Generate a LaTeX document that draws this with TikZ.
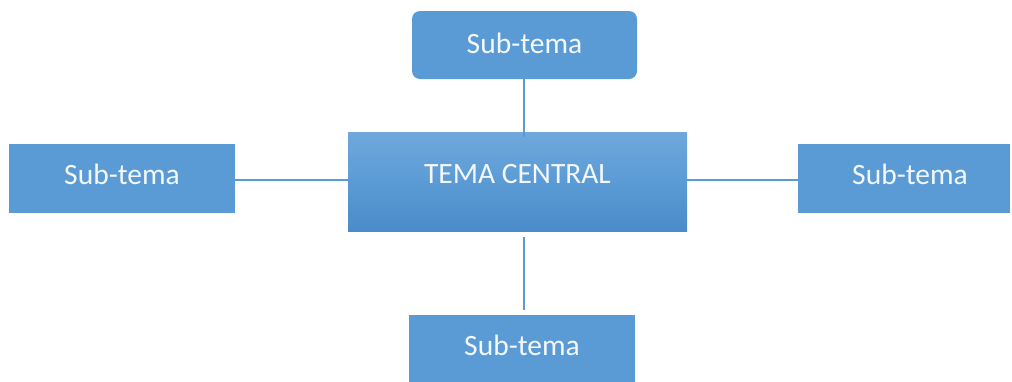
\documentclass[tikz,border=0pt]{standalone}
\usepackage{fontspec}
\setmainfont{Carlito}
\definecolor{officeblue}{HTML}{5B9BD5}
\definecolor{gradtop}{HTML}{70A8DC}
\definecolor{gradbot}{HTML}{4A8BC9}
\definecolor{txtwhite}{HTML}{F4F8FC}
\tikzset{
  subbox/.style={fill=officeblue, draw=none, inner sep=0pt, text=txtwhite,
    font=\fontsize{29.5}{31}\selectfont},
  mainbox/.style={top color=gradtop, bottom color=gradbot, middle color=officeblue, draw=none, inner sep=0pt,
    text=txtwhite, font=\fontsize{29.5}{31}\selectfont},
  conn/.style={draw=officeblue, line width=1.3pt}
}
\begin{document}
\begin{tikzpicture}[x=1pt,y=-1pt]
\useasboundingbox (0,0) rectangle (1012,381);
\fill[white] (0,0) rectangle (1012,381);
\node[mainbox, minimum width=339pt, minimum height=99pt] (central) at (517.5,181.5) {\raisebox{16pt}{TEMA CENTRAL}};
\node[subbox, rounded corners=8pt, minimum width=225pt, minimum height=68pt] (top) at (524.5,45) {\raisebox{3pt}{Sub-tema}};
\node[subbox, minimum width=226pt, minimum height=69pt] (left) at (122,178.5) {\raisebox{8.5pt}{Sub-tema}};
\node[subbox, minimum width=212pt, minimum height=69pt] (right) at (904,178.5) {\hspace{12pt}\raisebox{8.5pt}{Sub-tema}};
\node[subbox, minimum width=226pt, minimum height=68pt] (bottom) at (522,349) {\raisebox{7pt}{Sub-tema}};
\draw[conn] (top.south -| 524,0) -- ([yshift=-5pt]central.north -| 524,0);
\draw[conn] ([yshift=-6pt]central.south -| 524,0) -- ([yshift=5pt]bottom.north -| 524,0);
\draw[conn] (central.west -| left.east) ++(0,-1.5) -- ([yshift=1.5pt]central.west);
\draw[conn] ([yshift=1.5pt]central.east) -- ([yshift=1.5pt]central.east -| right.west);
\end{tikzpicture}
\end{document}
